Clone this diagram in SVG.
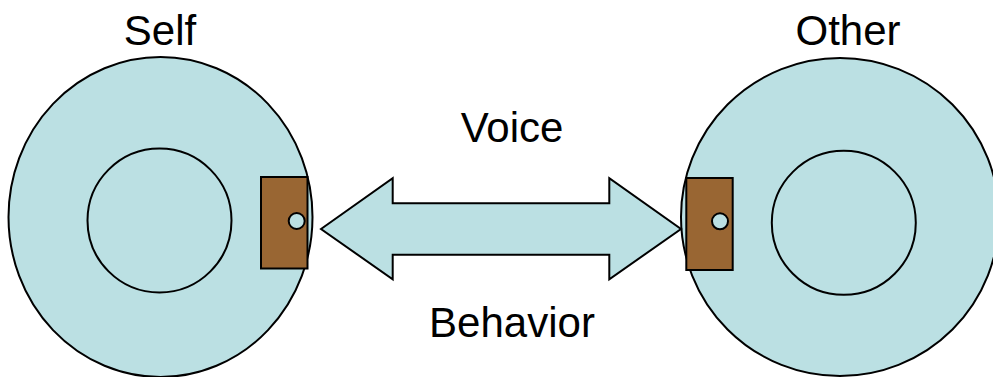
<svg xmlns="http://www.w3.org/2000/svg" width="993" height="377" viewBox="0 0 993 377">
<style>
.body{fill:#BBE0E3;stroke:#000;stroke-width:2}
.door{fill:#996633;stroke:#000;stroke-width:2}
.knob{fill:#BBE0E3;stroke:#000;stroke-width:2}
.lbl{font-family:"Liberation Sans",Arial,sans-serif;font-size:42px;fill:#000;text-anchor:middle}
</style>
<rect width="993" height="377" fill="#fff"/>
<g id="self">
<ellipse class="body" cx="160.5" cy="217" rx="152" ry="160"/>
<circle class="body" cx="159.5" cy="220.5" r="72"/>
<rect class="door" x="261" y="177" width="46.5" height="91.5"/>
<circle class="knob" cx="296.7" cy="221" r="8"/>
<text class="lbl" x="160" y="45">Self</text>
</g>
<g id="other">
<circle class="body" cx="840" cy="217" r="159"/>
<circle class="body" cx="843.8" cy="222.8" r="72"/>
<rect class="door" x="686.3" y="178" width="46.4" height="92"/>
<circle class="knob" cx="720" cy="221.3" r="8"/>
<text class="lbl" x="848" y="45">Other</text>
</g>
<g id="connectors">
<polygon class="body" points="321,229 392.7,178.3 392.7,203.3 609.3,203.3 609.3,178.3 681,229 609.3,279.3 609.3,254.7 392.7,254.7 392.7,279.3"/>
<text class="lbl" x="512" y="141.5">Voice</text>
<text class="lbl" x="512" y="337.3">Behavior</text>
</g>
</svg>
